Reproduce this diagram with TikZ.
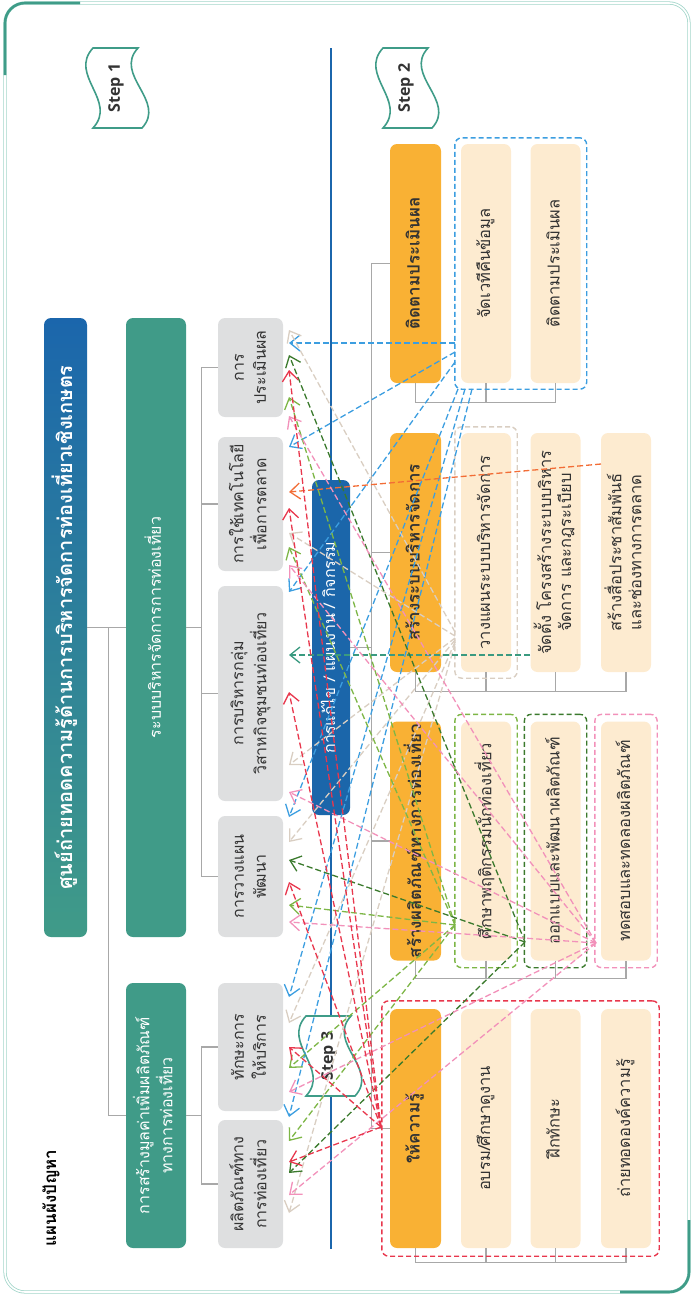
\documentclass[tikz,border=0pt]{standalone}
\usepackage{fontspec}
\setmainfont[Script=Thai]{Loma}
\newfontfamily\stepfont{Open Sans}
\usepackage{graphicx}
\usepackage{tikz}
\usetikzlibrary{arrows.meta,calc,fit}
\definecolor{framegreen}{HTML}{3F9C88}
\definecolor{framelight}{HTML}{A3D6CA}
\definecolor{headblue}{HTML}{1B66AC}
\definecolor{boxgreen}{HTML}{409B88}
\definecolor{boxgray}{HTML}{DEDFE0}
\definecolor{txtgray}{HTML}{333333}
\definecolor{solblue}{HTML}{1B66AA}
\definecolor{stepyellow}{HTML}{F9B134}
\definecolor{taskpeach}{HTML}{FDEBD0}
\definecolor{treegray}{HTML}{A8A8A8}
\definecolor{flowblue}{HTML}{3C9EE0}
\definecolor{flowbeige}{HTML}{D9CEC2}
\definecolor{floworange}{HTML}{F26D36}
\definecolor{flowteal}{HTML}{3A9A80}
\definecolor{flowlgreen}{HTML}{7DB646}
\definecolor{flowdgreen}{HTML}{3B7A2D}
\definecolor{flowpink}{HTML}{F291BA}
\definecolor{flowred}{HTML}{E8374D}

% text standing on its side, read from the bottom up
\newcommand{\vtext}[1]{\rotatebox{90}{\begin{tabular}{@{}c@{}}#1\end{tabular}}}

\tikzset{
  box/.style={inner sep=0pt,rounded corners=7pt},
  headbox/.style={box,top color=headblue,bottom color=boxgreen,text=white,
    font=\bfseries\fontsize{20}{24}\selectfont},
  grnbox/.style={box,fill=boxgreen,text=white,minimum width=60pt,
    font=\fontsize{16}{22}\selectfont},
  grybox/.style={box,fill=boxgray,text=txtgray,minimum width=65pt,
    font=\fontsize{16}{22}\selectfont},
  solbox/.style={box,fill=solblue,text=white,minimum width=38pt,
    font=\fontsize{16}{20}\selectfont},
  orgbox/.style={box,fill=stepyellow,text=txtgray,minimum width=51pt,minimum height=239pt,
    font=\bfseries\fontsize{17}{20}\selectfont},
  pchbox/.style={box,fill=taskpeach,text=txtgray,minimum width=50pt,minimum height=239pt,
    font=\fontsize{16.5}{20}\selectfont},
  tree/.style={treegray,line width=1.2pt},
  dbox/.style={draw=#1,dash pattern=on 5pt off 3pt,line width=1.4pt,rounded corners=7pt,inner sep=6pt},
  flow/.style={draw=#1,dash pattern=on 6pt off 3pt,line width=1.3pt,
    -{Straight Barb[length=10pt,width=16pt]}},
  flagline/.style={draw=framegreen,fill=white,line width=1.6pt},
  steptxt/.style={font=\stepfont\bfseries\fontsize{16}{19}\selectfont,text=txtgray,rotate=90},
  stepflag/.pic={\draw[flagline] (-23,-40) -- (22,-40) .. controls (-3,-13) and (51,13) .. (26,40)
    -- (-23,40) .. controls (2,13) and (-48,-13) .. (-23,-40) -- cycle;}
}

\begin{document}
\begin{tikzpicture}[x=1pt,y=-1pt]
  \useasboundingbox (0,0) rectangle (693,1296);
  % frame
  \draw[framelight,line width=0.8pt,double=white,double distance=1.6pt,rounded corners=20pt]
    (5,3) rectangle (689,1292);
  \draw[framegreen,line width=2.6pt,rounded corners=20pt] (5,75) -- (5,3) -- (80,3);
  \draw[framegreen,line width=2.6pt,rounded corners=20pt] (620,1292) -- (689,1292) -- (689,1220);

  \node[font=\bfseries\fontsize{17}{20}\selectfont,text=black] (mapname) at (51,1198)
    {\rotatebox{90}{แผนผังปัญหา}};

  % divider between the steps
  \draw[headblue,line width=1.5pt] (331,48) -- (331,1249);

  % step 1
  \node[headbox,minimum width=43pt,minimum height=619pt] (head) at (65.5,627.5)
    {\vtext{ศูนย์ถ่ายทอดความรู้ด้านการบริหารจัดการท่องเที่ยวเชิงเกษตร}};
  \node[grnbox,minimum height=619pt] (sys) at (156,627.5) {\vtext{ระบบบริหารจัดการการท่องเที่ยว}};
  \node[grnbox,minimum height=265pt] (val) at (156,1115.5)
    {\vtext{การสร้างมูลค่าเพิ่มผลิตภัณฑ์\\ทางการท่องเที่ยว}};
  \node[grybox,minimum height=99pt] (g1) at (250.5,367.5) {\vtext{การ\\ประเมินผล}};
  \node[grybox,minimum height=134pt] (g2) at (250.5,504) {\vtext{การใช้เทคโนโลยี\\เพื่อการตลาด}};
  \node[grybox,minimum height=215pt] (g3) at (250.5,693.5) {\vtext{การบริหารกลุ่ม\\วิสาหกิจชุมชนท่องเที่ยว}};
  \node[grybox,minimum height=121pt] (g4) at (250.5,876.5) {\vtext{การวางแผน\\พัฒนา}};
  \node[grybox,minimum height=128pt] (g5) at (250.5,1047) {\vtext{ทักษะการ\\ให้บริการ}};
  \node[grybox,minimum height=128pt] (g6) at (250.5,1184) {\vtext{ผลิตภัณฑ์ทาง\\การท่องเที่ยว}};

  \draw[tree] (head.east) -- (sys.west);
  \draw[tree] (head.east) ++(21,0) |- (val.west);
  \foreach \g in {g1,g2,g3,g4} \draw[tree] (sys.east) -- ++(15,0) |- (\g.west);
  \foreach \g in {g5,g6} \draw[tree] (val.east) -- ++(15,0) |- (\g.west);

  % step 2
  \node[solbox,minimum height=335pt] (sol) at (331,647.5) {\vtext{การแก้ไข / แผนงาน / กิจกรรม}};
  \node[orgbox] (o1) at (415.5,263.5) {\vtext{ติดตามประเมินผล}};
  \node[orgbox] (o2) at (415.5,552.5) {\vtext{สร้างระบบบริหารจัดการ}};
  \node[orgbox] (o3) at (415.5,841) {\vtext{สร้างผลิตภัณฑ์ทางการท่องเที่ยว}};
  \node[orgbox] (o4) at (415.5,1128.5) {\vtext{ให้ความรู้}};

  \node[pchbox] (p11) at (486,263.5) {\vtext{จัดเวทีคืนข้อมูล}};
  \node[pchbox] (p12) at (555.5,263.5) {\vtext{ติดตามประเมินผล}};
  \node[pchbox] (p21) at (486,552.5) {\vtext{วางแผนระบบบริหารจัดการ}};
  \node[pchbox] (p22) at (555.5,552.5) {\vtext{จัดตั้ง โครงสร้างระบบบริหาร\\จัดการ และกฎระเบียบ}};
  \node[pchbox] (p23) at (626,552.5) {\vtext{สร้างสื่อประชาสัมพันธ์\\และช่องทางการตลาด}};
  \node[pchbox] (p31) at (486,841) {\vtext{ศึกษาพฤติกรรมนักท่องเที่ยว}};
  \node[pchbox] (p32) at (555.5,841) {\vtext{ออกแบบและพัฒนาผลิตภัณฑ์}};
  \node[pchbox] (p33) at (626,841) {\vtext{ทดสอบและทดลองผลิตภัณฑ์}};
  \node[pchbox] (p41) at (486,1128.5) {\vtext{อบรม/ศึกษาดูงาน}};
  \node[pchbox] (p42) at (555.5,1128.5) {\vtext{ฝึกทักษะ}};
  \node[pchbox] (p43) at (626,1128.5) {\vtext{ถ่ายทอดองค์ความรู้}};

  \draw[tree] (o1.west) -- ++(-18,0) |- (o4.west);
  \foreach \o in {o2,o3} \draw[tree] (\o.west) -- ++(-18,0);
  \draw[tree] (sol.east) -- ++(22,0);
  \draw[tree] (o1.south) -- ++(0,19) -| (p12.south);
  \draw[tree] (p11.south) -- ++(0,19);
  \draw[tree] (o2.south) -- ++(0,19) -| (p23.south);
  \draw[tree] (p21.south) -- ++(0,19) (p22.south) -- ++(0,19);
  \draw[tree] (o3.south) -- ++(0,18) -| (p33.south);
  \draw[tree] (p31.south) -- ++(0,18) (p32.south) -- ++(0,18);
  \draw[tree] (o4.south) -- ++(0,14) -| (p43.south);
  \draw[tree] (p41.south) -- ++(0,14) (p42.south) -- ++(0,14);

  \node[dbox=flowblue,fit=(p11)(p12)] (fblue) {};
  \node[dbox=flowbeige,fit=(p21)] (fbeige) {};
  \node[dbox=flowlgreen,fit=(p31),inner ysep=7pt] (flgreen) {};
  \node[dbox=flowdgreen,fit=(p32),inner ysep=7pt] (fdgreen) {};
  \node[dbox=flowpink,fit=(p33),inner ysep=7pt] (fpink) {};
  \node[dbox=flowred,fit=(o4)(p43),inner sep=8pt] (fred) {};

  % steps
  \pic at (116,88) {stepflag};
  \node[steptxt] (st1) at (116,88) {Step 1};
  \pic at (406,88) {stepflag};
  \node[steptxt] (st2) at (406,88) {Step 2};
  \pic at (329,1056) {stepflag};
  \node[steptxt] (st3) at (329,1056) {Step 3};

  % links from the tasks back to the problems
  \foreach \col/\sx/\sy/\ty [count=\i] in {
      flowblue/455/343/343, flowblue/455/352/447, flowblue/455/362/592,
      flowblue/458/389/817, flowblue/465/389/997, flowblue/472/389/1117,
      flowbeige/455/632/330, flowbeige/455/636/533, flowbeige/455/638/765,
      flowbeige/455/640/842, flowbeige/455/642/1023, flowbeige/455/644/1213,
      floworange/601/464/492, flowteal/530/655/655,
      flowlgreen/455/925/397, flowlgreen/455/925/547, flowlgreen/455/925/905,
      flowlgreen/455/925/1068, flowlgreen/455/925/1141,
      flowdgreen/525/942/355, flowdgreen/525/942/860, flowdgreen/525/942/1173,
      flowpink/596/943/416, flowpink/596/943/565, flowpink/596/943/792,
      flowpink/596/943/922, flowpink/596/943/1092, flowpink/596/943/1195,
      flowred/381/1127/370, flowred/381/1127/508, flowred/381/1127/692,
      flowred/381/1127/882, flowred/381/1127/1047, flowred/381/1127/1162}{
    \coordinate (from\i) at (\sx,\sy);
    \coordinate (to\i) at (289,\ty);
    \draw[flow=\col] (from\i) -- (to\i);
  }
\end{tikzpicture}
\end{document}
